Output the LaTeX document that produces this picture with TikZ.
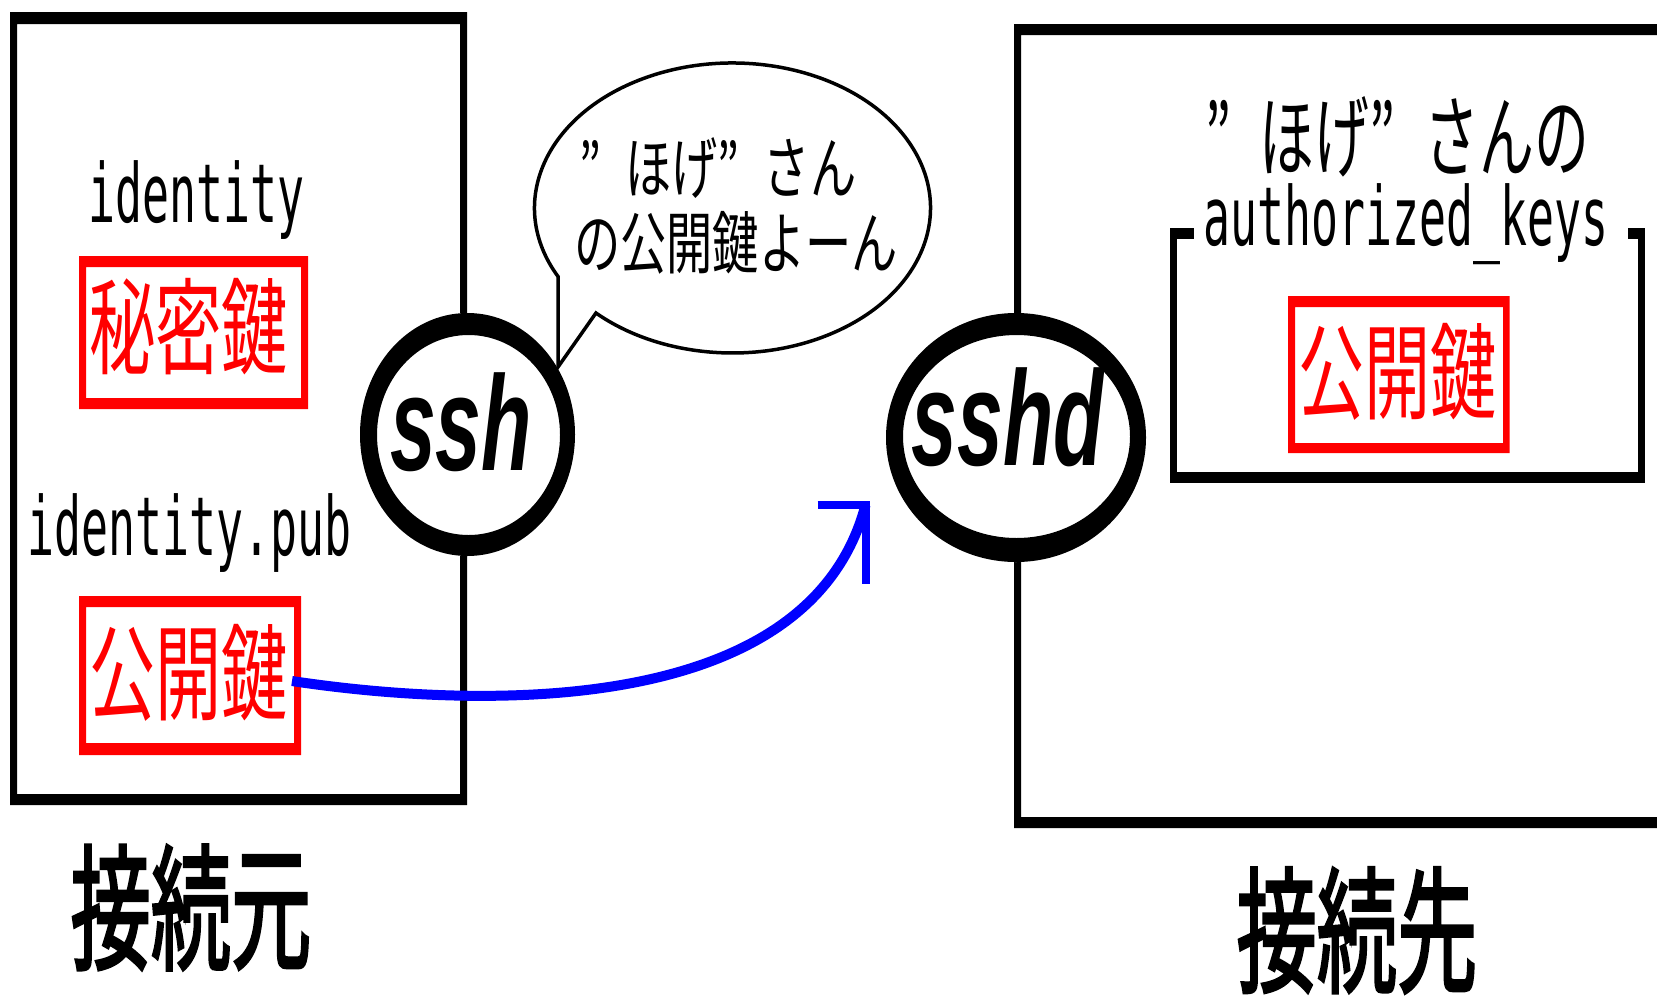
\documentclass[tikz,border=0pt]{standalone}
\usepackage{fontspec}
\usepackage{graphicx}
\newfontfamily\cjk{Noto Sans CJK JP}
\newfontfamily\cjkfb[FakeBold=2.5]{Noto Sans CJK JP}
\newfontfamily\monof{DejaVu Sans Mono}
\newfontfamily\arialf{Liberation Sans}
\definecolor{kred}{RGB}{255,0,0}
\definecolor{kblue}{RGB}{0,0,255}
\newcommand\lat[1]{{\fontsize{81.5pt}{82pt}\selectfont\monof\scalebox{0.55}[1]{#1}}}
\newcommand\jp[3]{{\fontsize{#1}{#1}\selectfont\cjk\scalebox{#2}[1]{#3}}}
\newcommand\jpb[3]{{\fontsize{#1}{#1}\selectfont\cjkfb\scalebox{#2}[1]{#3}}}
\newcommand\fq{\makebox[1em][l]{”}}
\newcommand\ssf[1]{{\fontsize{135pt}{135pt}\selectfont\arialf\bfseries\itshape\scalebox{0.61}[1]{#1}}}
\begin{document}
\begin{tikzpicture}[x=1pt,y=-1pt,
  txt/.style={inner sep=0pt,outer sep=0pt},
  frame/.style={fill=black,even odd rule},
  rframe/.style={fill=kred,even odd rule}]
\fill[white] (0,0) rectangle (1657,996);
\useasboundingbox (0,0) rectangle (1657,996);
\clip (0,0) rectangle (1657,996);
% left (client) box
\fill[frame] (10,12) rectangle (467,805) (17,24) rectangle (460,794);
% right (server) box
\fill[frame] (1014,24) rectangle (1690,828) (1021,35) rectangle (1680,817);
% authorized_keys bracket
\fill (1170,228) rectangle (1177,483);
\fill (1170,472) rectangle (1645,483);
\fill (1638,228) rectangle (1645,483);
\fill (1170,228) rectangle (1194,239);
\fill (1628,228) rectangle (1645,239);
% red key boxes
\fill[rframe] (79,256) rectangle (308,409) (86,267) rectangle (301,398);
\fill[rframe] (79,596) rectangle (301,755) (86,607) rectangle (294,743);
\fill[rframe] (1288,296) rectangle (1509.5,453) (1295,307) rectangle (1503,443);
% texts
\node[txt,anchor=base west] (id) at (88.5,222) {\lat{identity}};
\node[txt,anchor=base west] (idpub) at (27.5,555) {\lat{identity.pub}};
\node[txt,anchor=base west] (ak) at (1203.5,245) {\lat{authorized\_keys}};
\node[txt,text=kred] (sec) at (188.5,327) {\jp{105pt}{0.63}{秘密鍵}};
\node[txt,text=kred] (pubL) at (188.5,672.5) {\jp{105pt}{0.63}{公開鍵}};
\node[txt,text=kred] (pubR) at (1397.5,372) {\jp{105pt}{0.63}{公開鍵}};
\node[txt,anchor=west] (hoge) at (1205,137) {\jp{90pt}{0.61}{\fq ほげ\fq さんの}};
\node[txt] (src) at (191,907.5) {\jpb{136pt}{0.59}{接続元}};
\node[txt] (dst) at (1357,930.5) {\jpb{136pt}{0.59}{接続先}};
% blue arrow
\coordinate (a0) at (292,681);
\coordinate (tip) at (865.5,505);
\draw[kblue,line width=10] (a0) .. controls (430,702) and (805,735) .. (tip);
\draw[kblue,line width=8,line join=miter] (tip) ++(-48,0) -- (tip) -- ++(0,79);
% ssh ellipse
\fill[white] (467.5,434.5) ellipse [x radius=107.5, y radius=121.5];
\fill[even odd rule] (467.5,434.5) ellipse [x radius=107.5, y radius=121.5]
  (468.5,435) ellipse [x radius=91.5, y radius=100];
\node[txt,anchor=base] (ssh) at (461,470) {\ssf{ssh}};
% sshd ellipse
\fill[white] (1016,437.5) ellipse [x radius=130, y radius=124.5];
\fill[even odd rule] (1016,437.5) ellipse [x radius=130, y radius=124.5]
  (1016.5,436.5) ellipse [x radius=113.5, y radius=101.5];
\node[txt,anchor=base] (sshd) at (1008,465) {\ssf{sshd}};
% speech bubble
\filldraw[fill=white,draw=black,line width=3.5] (558,276.5)
  arc[start angle=151.8, end angle=493.6, x radius=198, y radius=145]
  -- (558,367) -- cycle;
\node[txt,anchor=west] (b1) at (579,168) {\jp{68pt}{0.68}{\fq ほげ\fq さん}};
\node[txt] (b2) at (736,242.5) {\jp{68pt}{0.68}{の公開鍵よーん}};
\end{tikzpicture}
\end{document}
